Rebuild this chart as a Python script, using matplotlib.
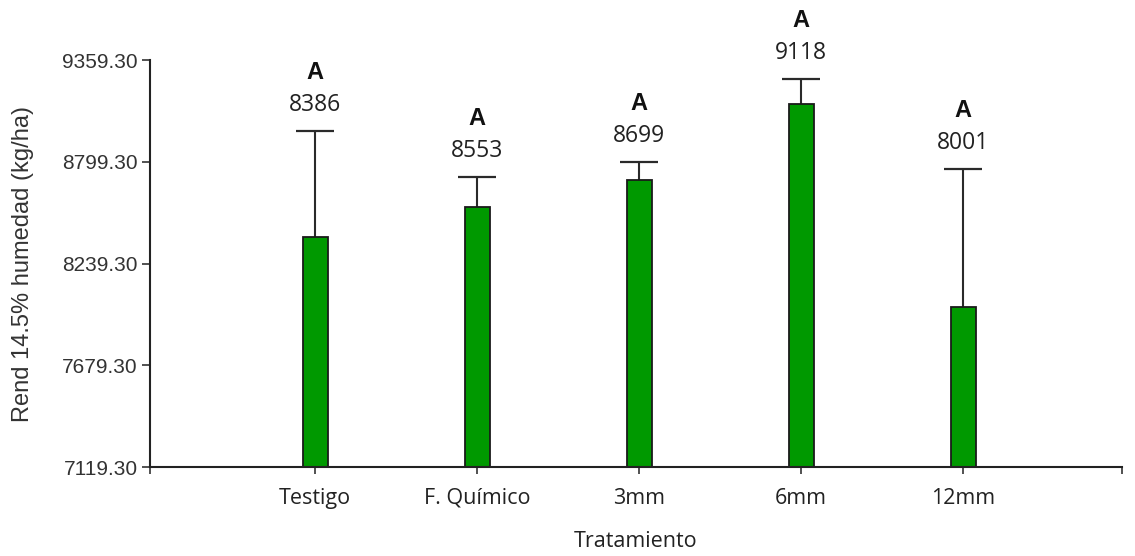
import matplotlib
matplotlib.use("Agg")
import matplotlib.pyplot as plt
import numpy as np

categories = ["Testigo", "F. Químico", "3mm", "6mm", "12mm"]
means = [8386, 8553, 8699, 9118, 8001]
errors = [583, 162, 99, 137, 758]
letters = ["A", "A", "A", "A", "A"]
yticks = [7119.30, 7679.30, 8239.30, 8799.30, 9359.30]

fig = plt.figure(figsize=(11.35, 5.56), dpi=100)
ax = fig.add_axes([0.1322, 0.160, 0.8563, 0.732])

x = np.arange(1, len(categories) + 1)
means_a = np.array(means)
errors_a = np.array(errors)
ax.bar(x, means_a - yticks[0], bottom=yticks[0], width=0.155,
       color="#009900", edgecolor="#1a1a1a", linewidth=1.3, zorder=2)
ax.vlines(x, means_a, means_a + errors_a, color="#2a2a2a", linewidth=1.5, zorder=1)
ax.plot(x, means_a + errors_a, linestyle="none", marker="_", markersize=28,
        markeredgewidth=1.6, color="#2a2a2a", zorder=1)

for xi, m, e, l in zip(x, means, errors, letters):
    ax.annotate(f"{m}", (xi, m + e), xytext=(0, 19), textcoords="offset points",
                ha="center", va="center", fontsize=16.5, family="Open Sans",
                color="#222222", annotation_clip=False)
    ax.annotate(l, (xi, m + e), xytext=(0, 42), textcoords="offset points",
                ha="center", va="center", fontsize=17, family="Liberation Sans",
                fontweight="bold", color="#111111", annotation_clip=False)

ax.set_xlim(-0.02, 5.98)
ax.set_ylim(yticks[0], yticks[-1])
ax.set_yticks(yticks)
ax.set_yticklabels([f"{v:.2f}" for v in yticks], family="Liberation Sans",
                   fontsize=15, color="#333333")
ax.set_xticks(x)
ax.set_xticklabels(categories, family="Open Sans", fontsize=15.5, color="#222222")
ax.set_xticks([-0.02, 5.98], minor=True)
ax.tick_params(axis="x", which="both", length=5, width=1.2, color="#333333", pad=10)
ax.tick_params(axis="y", length=6, width=1.2, color="#333333", pad=3)

ax.spines["top"].set_visible(False)
ax.spines["right"].set_visible(False)
for s in ("left", "bottom"):
    ax.spines[s].set_linewidth(1.5)
    ax.spines[s].set_color("#222222")

ax.set_ylabel("Rend 14.5% humedad (kg/ha)", family="Liberation Sans", fontsize=17,
              color="#333333", labelpad=20)
ax.set_xlabel("Tratamiento", family="Open Sans", fontsize=15.5, color="#222222",
              labelpad=16)

fig.savefig("out.png", dpi=100)
